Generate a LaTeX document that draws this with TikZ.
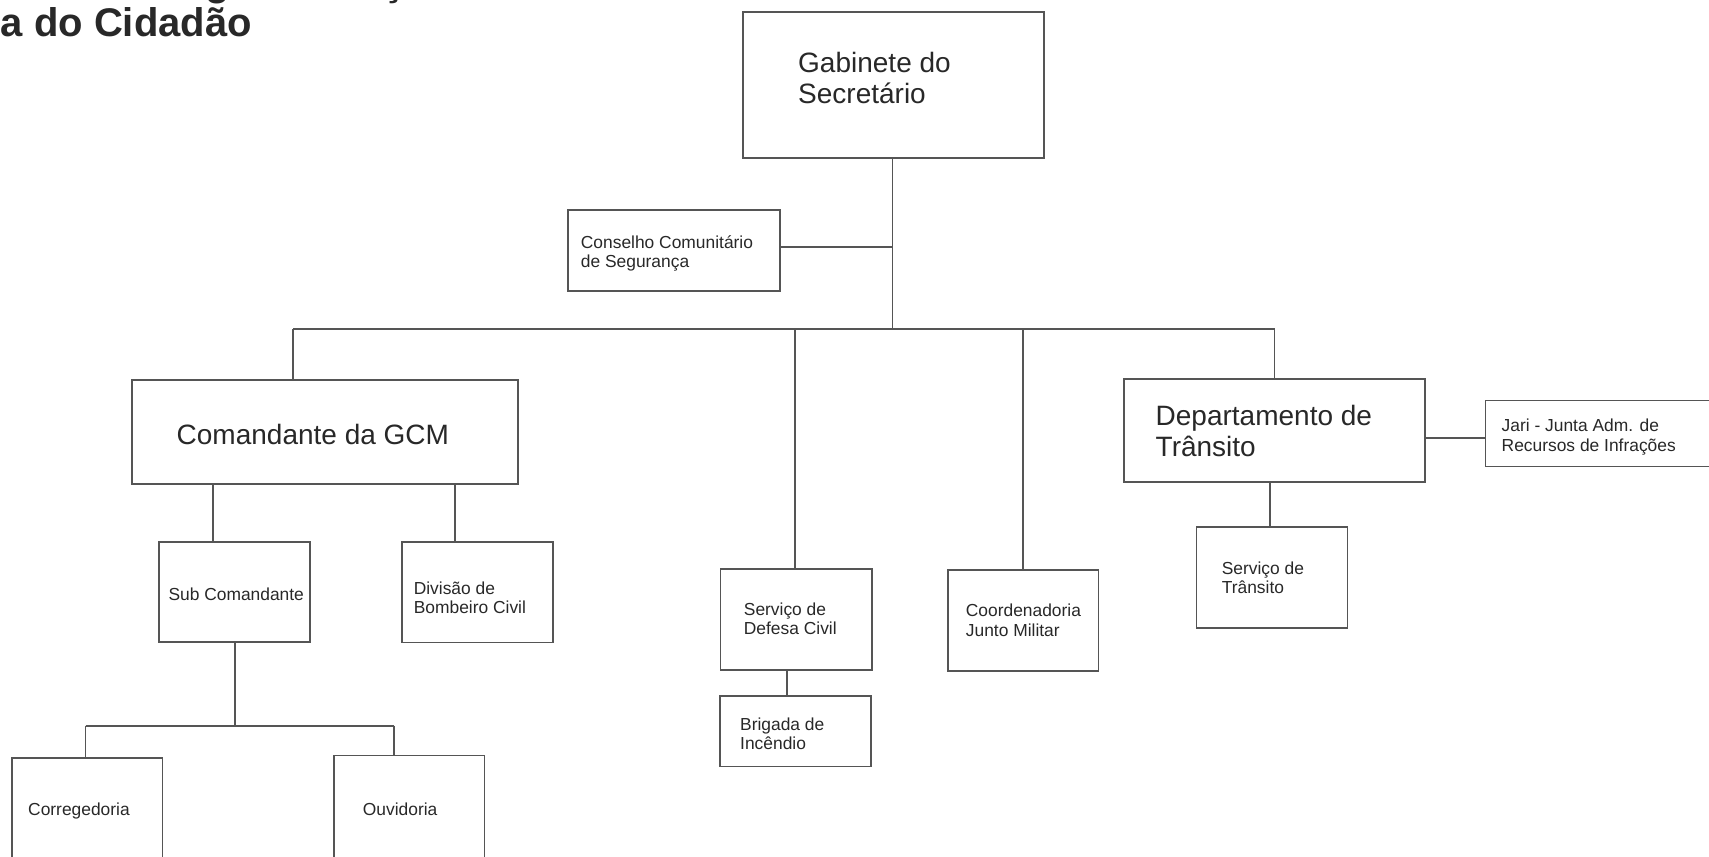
\documentclass[tikz,border=0pt]{standalone}
\usepackage{fontspec}
\setmainfont{Liberation Sans}
\definecolor{linec}{HTML}{555555}
\definecolor{txtc}{HTML}{282828}
\newcommand\smallfnt{\fontsize{17.4}{19.5}\selectfont}
\newcommand\bigfnt{\fontsize{28}{31.5}\selectfont}
\newcommand\titlefnt{\fontsize{40}{44}\selectfont\bfseries}
\newcommand\twolines[2]{\begin{tabular}[t]{@{}l@{}}#1\\#2\end{tabular}}
% box from its left, top, right and bottom edges
\newcommand\orgbox[5]{\node[orgrect, minimum width={#4-#2}, minimum height={#5-#3}] (#1) at ({(#2+#4)/2},{(#3+#5)/2}) {};}
\begin{document}
\begin{tikzpicture}[x=1pt,y=-1pt,
  orgrect/.style={draw=linec, line width=1.8pt, rectangle, inner sep=0pt},
  link/.style={draw=linec, line width=1.8pt},
  lbl/.style={anchor=base west, inner sep=0pt, text=txtc, font=\smallfnt},
  biglbl/.style={lbl, font=\bigfnt},
  ttl/.style={anchor=base west, inner sep=0pt, text=txtc, font=\titlefnt}]
\useasboundingbox (0,0) rectangle (1709,857);
\clip (0,0) rectangle (1709,857);

% title, cut by the frame
\node[ttl] (title2) at (0.5,36) {a do Cidadão};
\node[ttl] (titlefragA) at (205,-4.5) {g};
\node[ttl] (titlefragB) at (382,-4.5) {ç};

% boxes
\orgbox{gab}{743}{12}{1044}{158}
\orgbox{con}{568}{210}{780}{291}
\orgbox{com}{132}{380}{518}{484}
\orgbox{dep}{1124}{379}{1425}{482}
\orgbox{jari}{1485.5}{400.5}{1730}{466.5}
\orgbox{sub}{159}{542}{310}{642}
\orgbox{div}{402}{542}{553}{642.5}
\orgbox{def}{720.5}{569}{872}{670}
\orgbox{bri}{720}{696}{871}{766.5}
\orgbox{coo}{948}{570}{1098.5}{671}
\orgbox{str}{1196.5}{527}{1347.5}{628}
\orgbox{cor}{12}{758}{162.5}{860}
\orgbox{ouv}{334}{755.5}{484.5}{862}

% texts
\node[biglbl] (gabt) at (798,72) {\twolines{Gabinete do}{Secretário}};
\node[lbl] (cont) at (580.7,248) {\twolines{Conselho Comunitário}{de Segurança}};
\node[biglbl] (comt) at (176.5,444) {Comandante da GCM};
\node[biglbl] (dept) at (1155.5,425) {\twolines{Departamento de}{Trânsito}};
\node[lbl] (jarit) at (1501.5,431.7) {\twolines{Jari - Junta Adm. de}{Recursos de Infrações}};
\node[lbl] (subt) at (168.3,600) {Sub Comandante};
\node[lbl] (divt) at (413.6,594) {\twolines{Divisão de}{Bombeiro Civil}};
\node[lbl] (deft) at (743.7,615) {\twolines{Serviço de}{Defesa Civil}};
\node[lbl] (brit) at (740,730) {\twolines{Brigada de}{Incêndio}};
\node[lbl] (coot) at (965.7,616.7) {\twolines{Coordenadoria}{Junto Militar}};
\node[lbl] (strt) at (1221.6,574) {\twolines{Serviço de}{Trânsito}};
\node[lbl] (cort) at (28,815) {Corregedoria};
\node[lbl] (ouvt) at (362.7,815) {Ouvidoria};

% junction points
\coordinate (trunk) at (892.5,329);
\coordinate (conj) at (892.5,247);
\coordinate (bA) at (293,329);
\coordinate (bB) at (794.7,329);
\coordinate (bC) at (1023.3,329);
\coordinate (bD) at (1274.5,329);
\coordinate (cA) at (212.7,0);
\coordinate (cB) at (455,0);
\coordinate (sj) at (235.3,725.7);
\coordinate (sA) at (85.5,725.7);
\coordinate (sB) at (393.6,725.7);
\coordinate (dj) at (787.3,0);
\coordinate (tj) at (1270,0);
\coordinate (jj) at (0,437.7);

% connectors
\draw[link] (trunk |- gab.south) -- (trunk);
\draw[link] (con.east |- conj) -- (conj);
\draw[link] (bA) -- (bD);
\draw[link] (bA) -- (bA |- com.north);
\draw[link] (bB) -- (bB |- def.north);
\draw[link] (bC) -- (bC |- coo.north);
\draw[link] (bD) -- (bD |- dep.north);
\draw[link] (cA |- com.south) -- (cA |- sub.north);
\draw[link] (cB |- com.south) -- (cB |- div.north);
\draw[link] (sj |- sub.south) -- (sj);
\draw[link] (sA) -- (sB);
\draw[link] (sA) -- (sA |- cor.north);
\draw[link] (sB) -- (sB |- ouv.north);
\draw[link] (dj |- def.south) -- (dj |- bri.north);
\draw[link] (tj |- dep.south) -- (tj |- str.north);
\draw[link] (dep.east |- jj) -- (jari.west |- jj);
\end{tikzpicture}
\end{document}
